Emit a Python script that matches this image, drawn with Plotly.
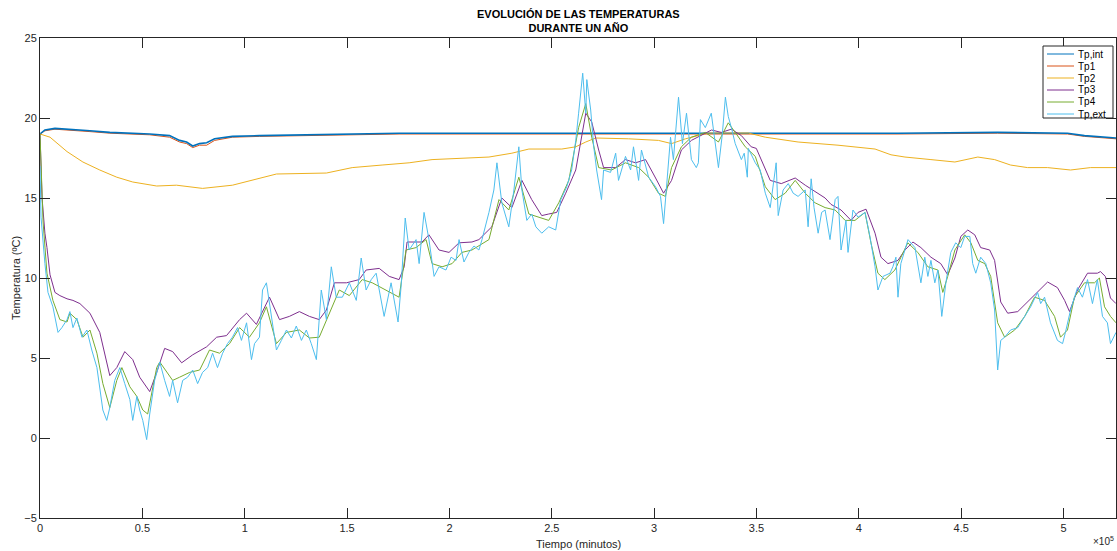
import plotly.graph_objects as go

# ---- data (x in minutes, y in ºC) ----
tp_int_x = [0, 2400, 7300, 14600, 24400, 34100, 53600, 63300, 68200, 71600, 74600, 77900, 81400, 85300, 94000, 107200, 126700, 175400, 224200, 272900, 321600, 370300, 419100, 467800, 501900, 510200, 516500, 525600]
tp_int_y = [19.0, 19.25, 19.35, 19.3, 19.2, 19.1, 19.0, 18.9, 18.6, 18.5, 18.25, 18.4, 18.45, 18.7, 18.85, 18.9, 18.95, 19.05, 19.05, 19.05, 19.05, 19.05, 19.05, 19.1, 19.05, 18.9, 18.85, 18.75]

tp1_x = [0, 2400, 7300, 14600, 24400, 34100, 53600, 63300, 68200, 71600, 74600, 77900, 81400, 85300, 94000, 107200, 126700, 175400, 224200, 272900, 321600, 370300, 419100, 467800, 501900, 510200, 516500, 525600]
tp1_y = [19.0, 19.2, 19.3, 19.25, 19.15, 19.05, 18.95, 18.8, 18.5, 18.4, 18.15, 18.3, 18.3, 18.6, 18.8, 18.85, 18.9, 19.0, 19.0, 19.0, 19.0, 19.0, 19.0, 19.05, 19.0, 18.85, 18.8, 18.7]

tp2_x = [0, 4900, 13200, 20950, 29200, 37500, 45300, 57000, 66700, 79400, 94000, 107200, 115500, 139900, 152500, 167100, 180300, 191500, 219300, 230500, 238800, 254900, 261700, 266600, 271400, 287500, 302100, 308500, 315300, 326500, 346000, 354300, 370300, 389800, 407900, 415700, 422500, 435200, 446900, 458100, 466300, 474100, 482400, 492200, 503400, 513100, 525600]
tp2_y = [19.0, 18.8, 17.9, 17.25, 16.75, 16.3, 16.0, 15.75, 15.8, 15.6, 15.8, 16.25, 16.5, 16.56, 16.9, 17.06, 17.2, 17.4, 17.56, 17.8, 18.06, 18.06, 18.2, 18.5, 18.75, 18.7, 18.6, 18.4, 18.7, 19.06, 19.06, 18.8, 18.5, 18.3, 18.06, 17.7, 17.56, 17.4, 17.25, 17.56, 17.4, 17.06, 16.9, 16.9, 16.75, 16.9, 16.9]

tp3_x = [0, 1000, 2400, 3400, 4900, 7300, 9700, 13200, 16100, 19500, 24400, 29200, 34100, 37500, 41400, 45300, 48700, 53600, 57000, 60900, 64800, 69200, 74600, 81400, 86300, 91100, 97500, 100900, 105700, 112100, 117000, 121800, 126700, 131600, 136400, 139900, 143800, 149700, 155900, 159300, 165700, 170600, 175400, 177900, 179300, 186600, 190000, 194900, 199800, 204700, 211000, 214400, 220700, 225600, 230500, 235400, 240200, 245100, 248500, 252400, 256800, 261700, 266600, 269500, 272900, 275300, 281200, 286000, 290900, 295800, 300700, 304600, 308500, 313300, 318200, 323100, 328000, 332800, 337700, 342600, 347400, 349900, 352300, 356700, 362100, 368900, 373800, 378600, 383500, 386400, 391300, 396200, 399600, 403500, 407900, 410800, 414200, 419100, 422500, 426400, 430300, 435200, 440000, 443400, 446900, 449800, 453200, 456600, 459500, 463900, 466300, 469300, 472700, 477600, 482400, 487300, 492200, 497000, 500500, 502900, 506800, 511700, 516500, 518000, 520400, 522900, 525600]
tp3_y = [19.0, 15.0, 12.8, 11.9, 10.2, 9.1, 8.9, 8.7, 8.6, 8.4, 7.8, 6.6, 3.9, 4.4, 5.4, 4.9, 3.8, 2.9, 4.1, 5.6, 5.4, 4.7, 5.2, 5.7, 6.3, 6.4, 7.4, 7.8, 7.1, 8.8, 7.4, 7.6, 7.9, 7.6, 7.4, 8.0, 9.7, 9.7, 9.9, 10.5, 10.6, 10.1, 9.9, 10.7, 12.25, 12.25, 12.7, 11.75, 11.6, 12.2, 12.25, 12.4, 13.2, 15.0, 14.4, 16.1, 14.9, 13.9, 14.0, 14.1, 15.3, 16.75, 20.3, 19.75, 18.0, 16.9, 16.9, 17.4, 17.2, 17.4, 16.25, 15.3, 16.1, 18.0, 18.6, 18.9, 19.25, 19.1, 19.3, 18.9, 18.2, 18.1, 17.4, 16.1, 15.9, 16.25, 15.8, 15.4, 15.0, 14.6, 14.25, 13.6, 14.1, 14.3, 12.8, 11.3, 10.9, 11.1, 11.75, 12.25, 11.9, 11.3, 10.9, 10.2, 11.25, 12.6, 13.0, 12.7, 11.9, 11.75, 11.1, 8.5, 7.8, 7.9, 8.5, 9.1, 9.75, 9.4, 8.6, 7.9, 9.25, 10.3, 10.3, 10.4, 10.1, 8.75, 8.4]

tp4_x = [0, 1500, 3400, 6300, 9700, 13200, 14600, 18000, 21000, 24400, 27800, 30700, 34100, 37500, 40000, 43900, 47300, 50200, 52600, 57000, 58500, 61900, 64800, 68200, 73100, 78000, 82800, 87700, 92600, 97500, 102300, 107200, 110600, 115500, 120400, 126700, 131600, 136400, 141300, 146200, 151100, 157400, 162300, 169100, 175400, 178800, 183700, 188600, 191500, 196400, 201300, 206100, 211000, 219300, 224200, 229000, 233900, 238800, 243700, 248500, 253400, 258300, 263100, 266600, 269500, 272900, 279200, 286000, 292400, 297300, 302100, 305500, 308500, 313300, 318200, 325000, 331400, 336200, 339600, 344500, 349400, 354300, 359100, 364000, 368900, 373800, 378600, 383500, 388400, 393300, 398100, 403000, 405900, 409300, 412700, 417600, 423900, 428800, 433700, 438600, 441000, 443400, 446900, 451700, 454700, 458100, 461500, 464400, 467800, 471200, 476100, 481000, 485800, 490700, 495600, 498500, 501900, 505300, 510200, 515100, 517500, 520000, 522900, 525600]
tp4_y = [19.0, 13.5, 10.3, 8.6, 7.4, 7.25, 7.8, 7.4, 6.3, 6.75, 5.3, 3.4, 1.9, 3.6, 4.4, 3.2, 2.6, 1.75, 1.5, 4.4, 4.75, 4.1, 3.6, 3.8, 4.1, 4.25, 5.5, 5.3, 5.9, 6.9, 6.3, 7.2, 8.2, 5.9, 6.6, 6.75, 6.25, 6.3, 7.8, 9.25, 8.9, 9.9, 9.7, 9.25, 8.8, 11.75, 11.9, 12.4, 10.9, 10.7, 10.9, 11.6, 11.75, 12.4, 14.9, 14.25, 16.3, 14.0, 13.8, 13.6, 14.7, 16.1, 19.4, 20.9, 18.8, 16.9, 16.75, 17.2, 16.9, 16.3, 15.3, 15.1, 16.9, 18.2, 18.8, 19.1, 18.5, 19.7, 19.1, 18.2, 17.6, 15.7, 14.9, 15.3, 16.1, 15.3, 14.7, 14.4, 14.25, 13.6, 13.6, 14.1, 12.2, 10.3, 9.9, 10.5, 12.2, 11.6, 10.7, 10.5, 9.1, 10.1, 11.75, 12.7, 12.2, 11.1, 10.9, 10.1, 7.2, 6.3, 6.75, 7.6, 8.8, 8.6, 7.6, 6.3, 6.75, 8.8, 9.7, 9.7, 10.0, 8.2, 7.6, 7.2]

tp_ext_x = [0, 500, 2400, 3900, 6300, 8800, 10700, 13200, 14600, 16100, 18000, 20500, 22900, 25300, 27800, 29200, 30700, 32600, 34100, 36500, 39000, 41400, 43900, 45300, 47300, 48700, 50200, 52100, 53600, 56000, 58500, 60900, 63300, 64800, 67200, 69700, 72100, 74600, 77000, 79400, 81900, 84300, 86700, 89200, 91600, 94000, 96500, 98400, 100900, 103300, 104800, 107200, 108700, 110600, 113100, 115500, 117900, 120400, 122800, 125200, 127700, 130100, 132500, 135000, 137400, 139900, 142300, 144700, 147700, 151100, 154500, 156900, 159300, 161800, 164200, 168100, 171500, 174900, 176400, 178400, 180300, 183700, 185200, 187600, 190000, 192500, 194900, 198300, 200800, 203200, 204700, 207100, 209500, 212000, 214400, 215900, 219300, 221700, 223200, 225600, 229000, 231500, 233900, 235400, 237800, 240200, 242200, 245100, 248500, 251900, 254400, 257300, 259700, 261700, 263100, 264100, 265100, 266600, 267100, 269000, 270500, 271900, 274300, 275300, 278700, 281200, 282600, 286000, 288500, 289900, 292400, 293800, 297300, 300700, 303100, 304600, 306000, 308000, 309400, 311900, 313800, 315800, 318200, 320600, 321600, 322600, 325000, 327900, 331400, 333300, 334800, 336200, 337700, 339600, 342600, 344000, 345500, 346000, 349400, 351800, 354300, 356700, 359600, 360600, 363000, 365500, 367900, 370300, 373800, 375200, 376700, 378100, 380100, 381800, 383500, 385900, 388400, 389800, 391300, 393700, 394700, 397100, 399600, 403000, 405400, 407900, 409300, 411800, 415200, 416600, 418100, 419100, 420500, 424000, 427400, 428800, 430300, 432200, 433700, 435200, 437100, 438600, 440500, 442500, 444900, 447300, 449800, 451700, 454200, 455600, 457100, 459500, 462000, 464400, 466300, 467800, 469300, 471200, 474100, 477600, 481000, 483900, 487300, 488800, 490700, 493600, 497000, 499500, 500900, 503400, 506800, 509200, 511700, 514100, 516500, 519000, 521400, 522900, 525600]
tp_ext_y = [17.0, 13.8, 10.9, 9.1, 8.2, 6.6, 6.9, 7.4, 7.9, 6.9, 7.5, 6.3, 6.75, 5.5, 4.4, 3.2, 1.75, 1.1, 1.9, 3.6, 4.4, 3.4, 2.4, 1.1, 2.6, 1.75, 1.1, -0.1, 1.5, 3.6, 4.75, 3.6, 2.6, 3.6, 2.2, 3.6, 3.8, 4.25, 3.4, 4.1, 4.4, 5.3, 4.4, 5.3, 5.9, 6.3, 6.9, 6.1, 7.2, 4.9, 5.9, 6.3, 9.25, 9.7, 7.4, 5.5, 6.1, 6.75, 6.25, 7.0, 6.1, 6.75, 5.9, 4.9, 9.25, 7.4, 10.7, 8.8, 8.8, 9.7, 8.6, 11.25, 9.25, 9.9, 10.3, 7.6, 9.7, 7.25, 9.5, 13.75, 11.75, 12.4, 10.9, 14.1, 12.4, 10.1, 10.7, 10.5, 11.3, 11.1, 12.4, 11.0, 11.6, 12.0, 11.75, 12.4, 14.1, 15.5, 17.2, 14.7, 13.2, 15.5, 18.2, 15.5, 13.6, 14.0, 13.2, 12.8, 13.2, 13.0, 14.9, 15.7, 16.75, 18.6, 20.3, 21.75, 22.8, 20.3, 22.4, 20.5, 18.2, 16.75, 14.9, 16.75, 16.6, 17.8, 16.1, 17.6, 16.75, 18.2, 16.1, 18.0, 16.3, 15.7, 15.1, 13.4, 15.7, 18.8, 17.4, 21.3, 18.4, 20.3, 17.4, 16.9, 17.2, 19.9, 19.4, 20.3, 16.9, 19.0, 21.3, 20.1, 19.4, 18.4, 17.4, 17.8, 16.3, 18.1, 17.2, 16.75, 15.3, 14.4, 17.2, 13.9, 15.5, 15.9, 15.3, 15.1, 15.5, 13.2, 16.2, 14.4, 12.8, 14.1, 14.25, 12.4, 14.9, 15.1, 11.75, 13.6, 11.6, 14.25, 13.8, 14.1, 12.6, 10.7, 9.25, 10.1, 10.3, 10.7, 11.3, 8.8, 10.9, 12.4, 11.9, 10.7, 9.7, 11.3, 10.1, 11.1, 9.7, 10.5, 7.6, 9.7, 11.6, 12.2, 11.9, 12.6, 12.6, 10.9, 10.3, 11.3, 10.9, 9.7, 8.0, 4.25, 6.1, 6.3, 6.75, 6.9, 7.6, 8.2, 9.1, 8.4, 8.8, 7.2, 6.1, 5.9, 6.6, 8.0, 9.4, 8.8, 9.9, 8.4, 9.9, 7.6, 7.2, 5.9, 6.6]

names = ["Tp,int", "Tp1", "Tp2", "Tp3", "Tp4", "Tp,ext"]
colors = ["#0072BD", "#D95319", "#EDB120", "#7E2F8E", "#77AC30", "#4DBEEE"]
widths = [1.6, 1, 1, 1, 1, 1]
xs = [tp_int_x, tp1_x, tp2_x, tp3_x, tp4_x, tp_ext_x]
ys = [tp_int_y, tp1_y, tp2_y, tp3_y, tp4_y, tp_ext_y]
draw_order = [1, 0, 2, 3, 4, 5]

xtick_vals = [0, 50000, 100000, 150000, 200000, 250000, 300000, 350000, 400000, 450000, 500000]
xtick_text = ["0", "0.5", "1", "1.5", "2", "2.5", "3", "3.5", "4", "4.5", "5"]
ytick_vals = [-5, 0, 5, 10, 15, 20, 25]

fig = go.Figure()
for i in draw_order:
    fig.add_trace(go.Scatter(x=xs[i], y=ys[i], mode="lines", name=names[i],
                             line=dict(color=colors[i], width=widths[i]), showlegend=False))

axis_common = dict(showline=True, linecolor="#262626", linewidth=1, mirror="ticks",
                   ticks="inside", ticklen=10, tickcolor="#262626", showgrid=False,
                   zeroline=False, tickfont=dict(size=11, color="#262626"))

W, H = 1117, 551
ML, MR, MT, MB = 40, 1, 38, 33

fig.update_layout(
    width=W, height=H,
    margin=dict(l=ML, r=MR, t=MT, b=MB),
    paper_bgcolor="white", plot_bgcolor="white",
    font=dict(family="Liberation Sans, Arial, sans-serif", color="#262626"),
    xaxis=dict(range=[0, 525600], tickvals=xtick_vals, ticktext=xtick_text,
               automargin=False, **axis_common),
    yaxis=dict(range=[-5, 25], tickvals=ytick_vals,
               automargin=False, **axis_common),
    showlegend=False,
)

PW, PH = W - ML - MR, H - MT - MB
def px(x):
    return (x - ML) / PW
def py(y):
    return (H - MB - y) / PH

# title and axis titles
fig.add_annotation(text="<b>EVOLUCIÓN DE LAS TEMPERATURAS<br>DURANTE UN AÑO</b>",
                   xref="paper", yref="paper", x=px(578), y=py(21),
                   xanchor="center", yanchor="middle", showarrow=False,
                   font=dict(size=11, color="#000000"))
fig.add_annotation(text="Tiempo (minutos)", xref="paper", yref="paper",
                   x=px(578), y=py(544), xanchor="center", yanchor="middle",
                   showarrow=False, font=dict(size=11, color="#262626"))
fig.add_annotation(text="Temperatura (ºC)", xref="paper", yref="paper",
                   x=px(16), y=py(278), xanchor="center", yanchor="middle",
                   textangle=-90, showarrow=False, font=dict(size=11, color="#262626"))
fig.add_annotation(text="×10<sup>5</sup>", xref="paper", yref="paper",
                   x=px(1116), y=py(549), xanchor="right", yanchor="bottom",
                   showarrow=False, font=dict(size=10, color="#262626"))

# MATLAB-style legend box
fig.add_shape(type="rect", xref="paper", yref="paper",
              x0=px(1043), x1=px(1113), y0=py(118), y1=py(46),
              line=dict(color="#262626", width=1), fillcolor="white", layer="above")
rows = [54, 66, 78, 90, 102, 114]
for n, c, r in zip(names, colors, rows):
    fig.add_shape(type="line", xref="paper", yref="paper",
                  x0=px(1047), x1=px(1074), y0=py(r), y1=py(r),
                  line=dict(color=c, width=1), layer="above")
    fig.add_annotation(text=n, xref="paper", yref="paper", x=px(1076), y=py(r),
                       xanchor="left", yanchor="middle", showarrow=False,
                       font=dict(size=10, color="#000000"))

fig.write_html("out.html", config={"displayModeBar": False},
               post_script="document.body.style.margin='0px';")
